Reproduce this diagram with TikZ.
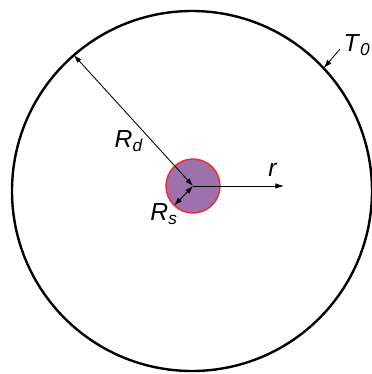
\documentclass[tikz,border=0pt]{standalone}
\usepackage{fontspec}
\setmainfont{Liberation Sans}
\usetikzlibrary{arrows.meta}
\definecolor{srcfill}{HTML}{9C71AE}
\definecolor{srcline}{HTML}{E8302C}
\newcommand{\sym}[2]{\textit{#1}\textsubscript{\textit{#2}}}
\begin{document}
\begin{tikzpicture}[x=0.75pt,y=-0.75pt,
  dom/.style={circle,draw,line width=1.8pt,outer sep=0pt,inner sep=0pt,minimum size=360pt*0.75},
  src/.style={circle,draw=srcline,fill=srcfill,line width=1.1pt,outer sep=0pt,inner sep=0pt,minimum size=54pt*0.75},
  ar/.style={-{Latex[length=6.5pt,width=4.2pt]},line width=0.65pt},
  dar/.style={{Latex[length=6pt,width=4pt]}-{Latex[length=6pt,width=4pt]},line width=0.65pt},
  lab/.style={font=\fontsize{18.5}{21}\selectfont,inner sep=0pt}]
\useasboundingbox (0,0) rectangle (371,374);
% ---- domain and source
\node[dom] (outer) at (192,191) {};
\node[src] (disk) at (193,186) {};
\coordinate (c) at (193,186);
% ---- radii
\draw[dar] (c) -- (outer.131);
\draw[dar] (c) -- (disk.226);
\coordinate (rend) at (284,186);
\draw[ar] (c) -- (rend);
% ---- boundary temperature
\coordinate (tstart) at (340,49);
\draw[ar] (tstart) -- (outer.43);
% ---- labels
\node[lab] (lRd) at (129,141) {\sym{R}{d}};
\node[lab] (lRs) at (164,214) {\sym{R}{s}};
\node[lab] (lr) at (273,170) {\textit{r}};
\node[lab] (lT) at (357,45) {\sym{T}{0}};
\end{tikzpicture}
\end{document}
